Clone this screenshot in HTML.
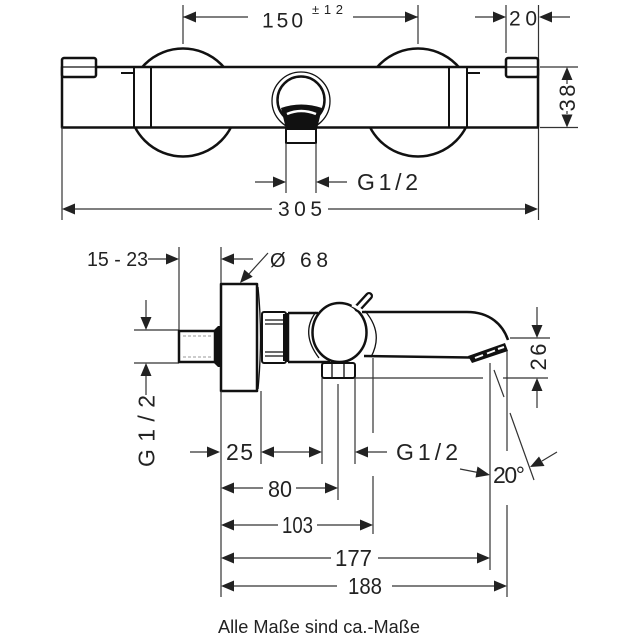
<!DOCTYPE html>
<html>
<head>
<meta charset="utf-8">
<style>
html,body{margin:0;padding:0;background:#fff;}
svg{display:block;}
.o{fill:none;stroke:#111;stroke-width:2.5;stroke-linejoin:round;}
.ow{fill:#fff;stroke:#111;stroke-width:2.5;stroke-linejoin:round;}
.t{fill:none;stroke:#111;stroke-width:1.3;}
.d{fill:none;stroke:#333;stroke-width:1.2;}
.a{fill:#222;stroke:none;}
text{font-family:"Liberation Sans",sans-serif;fill:#222;}
</style>
</head>
<body>
<svg width="640" height="640" viewBox="0 0 640 640" xmlns="http://www.w3.org/2000/svg">
<rect width="640" height="640" fill="#fff"/>

<!-- ============ TOP VIEW ============ -->
<path class="d" d="M183 5V44M418 5V44M183 17H248M353 17H418"/>
<polygon class="a" points="183,17 196,11.5 196,22.5"/>
<polygon class="a" points="418,17 405,11.5 405,22.5"/>
<text x="262" y="27.5" font-size="21" textLength="41" lengthAdjust="spacing">150</text>
<text x="312" y="14" font-size="13" textLength="31" lengthAdjust="spacing">±12</text>

<path class="d" d="M506 5V53M538.5 5V220M475 17H494M552 17H570"/>
<polygon class="a" points="506,17 493,11.5 493,22.5"/>
<polygon class="a" points="539,17 552,11.5 552,22.5"/>
<text x="509" y="25.5" font-size="21" textLength="28" lengthAdjust="spacing">20</text>

<circle class="o" cx="183" cy="102.5" r="54"/>
<circle class="o" cx="418" cy="102.5" r="54"/>

<rect class="ow" x="62" y="67" width="476" height="60.5"/>
<rect class="ow" x="62" y="58" width="34" height="19" rx="2"/>
<rect class="ow" x="506" y="58" width="32" height="19" rx="2"/>
<path class="t" d="M62 67H96M506 67H538"/>
<rect class="o" x="134" y="67" width="17" height="60.5" style="stroke-width:2"/>
<rect class="o" x="449" y="67" width="18" height="60.5" style="stroke-width:2"/>
<path class="o" d="M121 73H133M467 73H480" style="stroke-width:2"/>

<circle class="t" cx="301" cy="101" r="29"/>
<circle class="o" cx="301" cy="100" r="23.5"/>
<path d="M281 108Q301 101 322 108L317 129L286 129Z" fill="#111"/>
<path d="M287 114Q301 108 316 114" stroke="#fff" stroke-width="2.5" fill="none"/>
<rect class="ow" x="286" y="129" width="30" height="14" style="stroke-width:2"/>

<path class="d" d="M286 143V193M316 143V193M255 182H273M329 182H347"/>
<polygon class="a" points="286,182 273,176.5 273,187.5"/>
<polygon class="a" points="316,182 329,176.5 329,187.5"/>
<text x="357" y="190" font-size="23" textLength="61" lengthAdjust="spacing">G1/2</text>

<path class="d" d="M62 127V220M75 209H272M328 209H525"/>
<polygon class="a" points="62,209 75,203.5 75,214.5"/>
<polygon class="a" points="538,209 525,203.5 525,214.5"/>
<text x="278" y="216" font-size="21" textLength="44" lengthAdjust="spacing">305</text>

<path class="d" d="M540 67H578M540 127.5H578M567 80V84M567 111V114"/>
<polygon class="a" points="567,67 561.5,80 572.5,80"/>
<polygon class="a" points="567,127.5 561.5,114.5 572.5,114.5"/>
<text transform="translate(567,98) rotate(-90)" x="0" y="8" font-size="22" text-anchor="middle" textLength="27" lengthAdjust="spacing">38</text>

<!-- ============ SIDE VIEW ============ -->
<text x="87" y="266" font-size="20" textLength="61" lengthAdjust="spacingAndGlyphs">15 - 23</text>
<path class="d" d="M148 259H166M179 247V331"/>
<polygon class="a" points="179,259 166,253.5 166,264.5"/>

<path class="d" d="M221 247V284M234 259H253M268 253L248 275"/>
<polygon class="a" points="221,259 234,253.5 234,264.5"/>
<polygon class="a" points="240,283 252.7,276.8 244.3,269.6"/>
<text x="270" y="267" font-size="20">Ø</text>
<text x="300" y="267" font-size="21" textLength="28" lengthAdjust="spacing">68</text>

<path class="d" d="M134 330H179M134 363H179M146 300V317M146 376V395"/>
<polygon class="a" points="146,330 140.5,317 151.5,317"/>
<polygon class="a" points="146,363 140.5,376 151.5,376"/>
<text transform="translate(146,431) rotate(-90)" x="0" y="8.5" font-size="23" text-anchor="middle" textLength="72" lengthAdjust="spacing">G1/2</text>

<rect class="ow" x="179" y="331" width="36" height="31"/>
<path d="M183 336H212M183 357H212" stroke="#999" stroke-width="1" stroke-dasharray="3 2" fill="none"/>
<polygon fill="#111" points="214,330 218,326 221,326 221,367 218,367 214,363"/>

<rect class="ow" x="221" y="284" width="36" height="107"/>
<path class="t" d="M258 287Q263 337 258 389"/>

<rect class="ow" x="262" y="312" width="24" height="51" rx="2" style="stroke-width:2"/>
<path class="t" d="M265 320H283M265 324H283M265 352H283M265 356H283"/>
<rect x="283" y="314" width="5" height="47" fill="#111"/>

<path class="o" d="M288 313H318M288 313V362M288 362H330"/>

<path class="o" d="M362 312H467C490 312 503 325 508 340"/>
<path class="o" d="M364 356L470 357.5"/>

<path class="t" d="M316 312Q300 333 319 358"/>
<path class="t" d="M365 311Q384 333 371 357"/>
<ellipse class="ow" cx="339.5" cy="332.5" rx="27" ry="29.5"/>
<path d="M358 308L369 296" stroke="#111" stroke-width="8" stroke-linecap="round" fill="none"/>
<path d="M358 308L369 296" stroke="#fff" stroke-width="3.5" stroke-linecap="round" fill="none"/>
<path d="M352 305Q357 307 362 311" stroke="#fff" stroke-width="3" fill="none"/>

<polygon fill="#111" points="468,356 505,343 508,351 472,363"/>
<path d="M475 358L483 355M487 353.5L495 350.5M498 349L504 347" stroke="#fff" stroke-width="2" fill="none"/>

<rect class="ow" x="322" y="363" width="33" height="15" rx="2" style="stroke-width:2"/>
<path class="t" d="M332 364V377M344 364V377"/>

<path class="d" d="M261 391V464M221 391V597M322 378V464M355 378V464M338 384V500M373 358V433M373 476V534M490 363V570M507 351V451M507 505V597M355 378H483M503 378H548M510 338H550"/>
<path class="d" d="M494 370L504 397M510 413L534 480"/>

<path class="d" d="M537 307V325M537 391V408"/>
<polygon class="a" points="537,338 531.5,325 542.5,325"/>
<polygon class="a" points="537,378 531.5,391 542.5,391"/>
<text transform="translate(538,357) rotate(-90)" x="0" y="8" font-size="22" text-anchor="middle" textLength="27" lengthAdjust="spacing">26</text>

<path class="d" d="M460 469L478 472.5M557 452L542 461"/>
<polygon class="a" points="490,475 477.5,466.5 475.5,477.5"/>
<polygon class="a" points="530,467 539,456.5 544.5,466"/>
<text x="493" y="483" font-size="23" textLength="32" lengthAdjust="spacing">20°</text>

<path class="d" d="M190 452H207M274 452H309M368 452H387"/>
<polygon class="a" points="220,452 207,446.5 207,457.5"/>
<polygon class="a" points="261,452 274,446.5 274,457.5"/>
<polygon class="a" points="322,452 309,446.5 309,457.5"/>
<polygon class="a" points="355,452 368,446.5 368,457.5"/>
<text x="226" y="460" font-size="23" textLength="27" lengthAdjust="spacing">25</text>
<text x="396" y="460" font-size="23" textLength="62" lengthAdjust="spacing">G1/2</text>

<path class="d" d="M234 488H263M296 488H325"/>
<polygon class="a" points="221,488 234,482.5 234,493.5"/>
<polygon class="a" points="338,488 325,482.5 325,493.5"/>
<text x="268" y="497" font-size="23" textLength="24" lengthAdjust="spacingAndGlyphs">80</text>

<path class="d" d="M234 525H278M317 525H360"/>
<polygon class="a" points="221,525 234,519.5 234,530.5"/>
<polygon class="a" points="373,525 360,519.5 360,530.5"/>
<text x="282" y="533" font-size="23" textLength="31" lengthAdjust="spacingAndGlyphs">103</text>

<path class="d" d="M234 558H331M378 558H477"/>
<polygon class="a" points="221,558 234,552.5 234,563.5"/>
<polygon class="a" points="490,558 477,552.5 477,563.5"/>
<text x="335" y="566" font-size="23" textLength="37" lengthAdjust="spacingAndGlyphs">177</text>

<path class="d" d="M234 586H337M392 586H494"/>
<polygon class="a" points="221,586 234,580.5 234,591.5"/>
<polygon class="a" points="507,586 494,580.5 494,591.5"/>
<text x="348" y="594" font-size="23" textLength="34" lengthAdjust="spacingAndGlyphs">188</text>

<text x="218" y="633" font-size="18" textLength="202" lengthAdjust="spacingAndGlyphs">Alle Maße sind ca.-Maße</text>
</svg>
</body>
</html>
